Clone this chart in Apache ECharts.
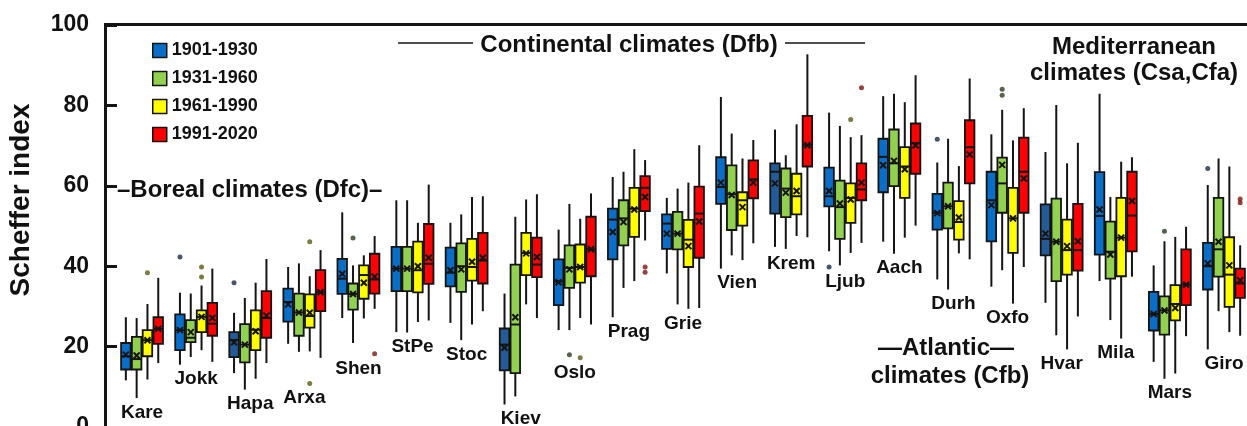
<!DOCTYPE html>
<html>
<head>
<meta charset="utf-8">
<title>Scheffer index by station and period</title>
<script src="https://cdn.jsdelivr.net/npm/echarts@6/dist/echarts.min.js"></script>
<style>
  html, body { margin: 0; padding: 0; background: #fff; }
  #chart { width: 1247px; height: 426px; }
</style>
</head>
<body>
<div id="chart"></div>
<script>
// stations, left to right
const stations = ['Kare', 'Jokk', 'Hapa', 'Arxa', 'Shen', 'StPe', 'Stoc', 'Kiev', 'Oslo', 'Prag', 'Grie',
  'Vien', 'Krem', 'Ljub', 'Aach', 'Durh', 'Oxfo', 'Hvar', 'Mila', 'Mars', 'Giro'];
const periods = ['1901-1930', '1931-1960', '1961-1990', '1991-2020'];

// [min, Q1, median, Q3, max] per station
const box1901 = [
  [11.6, 14.3, 17.6, 20.9, 27.3], [15.5, 19.1, 24.1, 28.0, 33.4], [13.4, 17.4, 21.6, 23.6, 28.4],
  [20.7, 26.2, 31.1, 34.4, 39.8], [27.1, 33.1, 36.9, 41.8, 53.4], [23.6, 33.8, 39.4, 44.8, 56.4],
  [25.9, 35.0, 38.4, 44.6, 50.8], [5.6, 14.1, 20.5, 24.5, 33.2], [24.1, 30.3, 36.2, 41.7, 49.1],
  [27.3, 41.7, 51.6, 54.3, 62.2], [38.2, 44.3, 50.6, 52.9, 57.0], [39.4, 55.5, 59.7, 67.1, 82.1],
  [44.8, 53.1, 63.5, 65.6, 74.0], [43.7, 54.9, 57.4, 64.5, 78.2], [46.1, 58.4, 67.2, 71.7, 82.3],
  [36.7, 49.1, 53.3, 58.0, 65.8], [34.9, 46.2, 56.4, 63.5, 72.8], [30.9, 42.7, 46.8, 55.4, 68.4],
  [36.3, 42.9, 52.5, 63.4, 82.9], [16.2, 24.0, 28.1, 33.6, 40.2], [19.3, 34.2, 40.0, 45.8, 60.2]
];
const box1931 = [
  [7.2, 14.3, 16.9, 22.4, 27.1], [17.4, 21.1, 22.2, 26.6, 33.2], [9.3, 16.1, 20.5, 25.6, 32.1],
  [18.7, 22.7, 28.5, 33.2, 40.7], [20.9, 29.2, 33.1, 35.7, 40.2], [23.5, 33.8, 39.4, 44.8, 56.4],
  [21.6, 33.6, 40.0, 45.7, 52.9], [7.6, 13.4, 25.5, 40.4, 52.3], [24.1, 34.6, 39.6, 45.2, 55.5],
  [34.6, 45.2, 51.9, 56.4, 63.5], [30.5, 44.2, 48.1, 53.5, 59.3], [42.7, 49.0, 57.9, 65.1, 73.0],
  [44.3, 52.2, 59.3, 64.3, 67.6], [40.2, 46.8, 54.7, 61.3, 74.9], [43.1, 59.9, 65.6, 74.0, 82.9],
  [34.2, 49.4, 54.9, 60.8, 71.7], [39.0, 53.3, 60.6, 67.0, 78.9], [22.8, 36.3, 46.1, 56.8, 80.1],
  [26.6, 36.9, 43.6, 51.1, 57.2], [12.0, 23.0, 29.0, 32.5, 46.2], [28.8, 37.4, 44.2, 57.0, 66.8]
];
const box1961 = [
  [11.8, 17.6, 21.6, 24.1, 30.6], [19.1, 23.6, 27.4, 29.0, 35.2], [12.0, 19.1, 24.2, 29.0, 35.9],
  [18.8, 24.7, 27.6, 33.0, 37.5], [27.0, 31.9, 37.8, 40.2, 42.7], [26.1, 33.5, 39.0, 46.1, 50.8],
  [25.5, 36.4, 39.8, 46.8, 57.2], [30.5, 37.8, 43.3, 48.3, 56.6], [27.1, 35.9, 39.8, 45.4, 51.8],
  [36.3, 47.3, 54.3, 59.5, 69.1], [29.4, 39.8, 46.6, 51.5, 60.8], [41.5, 50.1, 56.4, 58.4, 66.8],
  [47.5, 52.9, 57.4, 63.0, 75.3], [43.3, 50.8, 57.0, 60.6, 72.1], [47.1, 57.0, 64.8, 69.6, 80.8],
  [43.2, 46.6, 51.0, 56.2, 64.9], [30.7, 43.3, 51.9, 59.5, 71.3], [19.3, 37.9, 44.0, 51.6, 65.6],
  [22.0, 37.5, 47.1, 57.0, 66.0], [13.3, 26.5, 30.6, 35.3, 47.3], [23.6, 29.9, 37.9, 47.2, 64.8]
];
const box1991 = [
  [15.9, 20.7, 24.4, 27.3, 37.1], [16.2, 22.7, 25.7, 30.9, 39.4], [15.9, 22.2, 27.1, 33.8, 41.8],
  [17.2, 28.8, 33.5, 39.0, 44.0], [29.4, 33.2, 36.7, 43.1, 47.5], [26.5, 35.6, 40.6, 50.5, 60.3],
  [28.8, 35.7, 41.4, 48.3, 57.4], [27.1, 37.3, 40.4, 47.1, 57.9], [25.5, 37.5, 44.2, 52.3, 58.1],
  [46.4, 53.7, 59.5, 62.4, 66.4], [29.6, 42.1, 53.1, 59.8, 70.1], [45.7, 56.9, 61.6, 66.3, 71.4],
  [47.2, 64.8, 70.1, 77.4, 92.7], [45.8, 56.4, 59.1, 65.6, 72.6], [50.1, 63.0, 70.6, 75.5, 87.5],
  [41.7, 60.6, 69.6, 76.3, 86.7], [39.8, 53.3, 63.5, 72.0, 79.3], [27.5, 38.9, 44.0, 55.5, 70.7],
  [37.4, 43.7, 52.6, 63.5, 67.1], [22.6, 30.3, 35.4, 44.2, 49.8], [22.7, 32.1, 35.7, 39.4, 45.2]
];

// means (the x marks)
const mean1901 = [18.0, 24.1, 21.1, 30.5, 38.1, 39.4, 39.0, 19.7, 36.0, 48.5, 48.1, 60.8, 60.6, 58.7, 65.1, 53.2, 55.2, 48.1, 54.1, 28.1, 40.7];
const mean1931 = [17.8, 23.6, 20.5, 28.5, 33.1, 39.4, 39.2, 27.3, 39.2, 51.0, 48.1, 57.7, 58.3, 55.6, 66.2, 54.9, 65.2, 46.1, 42.9, 29.0, 46.1];
const mean1961 = [21.6, 27.4, 23.8, 28.4, 35.9, 40.0, 41.1, 43.2, 39.8, 54.1, 45.0, 54.7, 58.7, 56.6, 64.1, 52.1, 51.9, 45.0, 47.1, 29.6, 40.2];
const mean1991 = [24.4, 27.1, 27.7, 33.5, 37.4, 42.1, 42.1, 42.3, 44.2, 57.2, 51.1, 60.8, 70.1, 60.8, 70.1, 67.8, 61.8, 46.2, 56.2, 35.4, 36.5];

// outliers [station, value]
const out1901 = [['Jokk', 42.3], ['Hapa', 35.9], ['Ljub', 39.8], ['Durh', 71.6], ['Giro', 64.3]];
const out1931 = [['Shen', 47.0], ['Oslo', 18.0], ['Oxfo', 84.0], ['Oxfo', 82.5], ['Mars', 48.7]];
const out1961 = [['Kare', 38.4], ['Jokk', 39.8], ['Jokk', 37.3], ['Arxa', 46.1], ['Arxa', 10.8], ['Oslo', 17.2], ['Ljub', 76.5]];
const out1991 = [['Shen', 18.2], ['Prag', 39.8], ['Prag', 38.5], ['Ljub', 84.4], ['Giro', 56.7], ['Giro', 55.8]];

const boxes = [box1901, box1931, box1961, box1991];
const means = [mean1901, mean1931, mean1961, mean1991];
const outliers = [out1901, out1931, out1961, out1991];

const colors = ['#0a6ec6', '#92d050', '#ffff00', '#ff0000'];
const dotColors = ['#1c2b45', '#2d3a1e', '#5a5a14', '#7a1414'];
const darkBlue = '#245b96';
const darkBlueStations = ['Hapa', 'Kiev', 'Krem', 'Hvar'];
const ink = '#141414';
const boxW = 9.5;
const step = 10.8;
const offsets = [-1.5, -0.5, 0.5, 1.5].map(k => k * step);

function renderBox(k) {
  return function (params, api) {
    const i = api.value(0);
    const cx = api.coord([i, 0])[0] + offsets[k];
    const py = v => api.coord([i, v])[1];
    const yMin = py(api.value(1)), yQ1 = py(api.value(2)), yMed = py(api.value(3));
    const yQ3 = py(api.value(4)), yMax = py(api.value(5)), yMean = py(api.value(6));
    const h = boxW / 2, m = 3;
    const line = { stroke: ink, lineWidth: 2 };
    return {
      type: 'group',
      children: [
        { type: 'line', shape: { x1: cx, y1: yMax, x2: cx, y2: yMin }, style: line },
        { type: 'rect', shape: { x: cx - h, y: yQ3, width: boxW, height: yQ1 - yQ3 },
          style: { fill: api.visual('color'), stroke: ink, lineWidth: 1.8 } },
        { type: 'line', shape: { x1: cx - h, y1: yMed, x2: cx + h, y2: yMed }, style: line },
        { type: 'line', shape: { x1: cx - m, y1: yMean - m, x2: cx + m, y2: yMean + m }, style: line },
        { type: 'line', shape: { x1: cx - m, y1: yMean + m, x2: cx + m, y2: yMean - m }, style: line }
      ]
    };
  };
}

// lowest point of each station group, so its name can sit underneath
function lowest(i) {
  let v = Math.min(...boxes.map(b => b[i][0]));
  outliers.forEach(list => list.forEach(o => { if (o[0] === stations[i]) v = Math.min(v, o[1]); }));
  return v;
}

const series = [];
periods.forEach((p, k) => {
  series.push({
    type: 'custom',
    name: p,
    renderItem: renderBox(k),
    itemStyle: { color: colors[k] },
    encode: { x: 0, y: [1, 2, 3, 4, 5, 6] },
    data: stations.map((s, i) => {
      const item = { value: [i, ...boxes[k][i], means[k][i]] };
      if (k === 0 && darkBlueStations.includes(s)) item.itemStyle = { color: darkBlue };
      return item;
    }),
    z: 2
  });
});
periods.forEach((p, k) => {
  series.push({
    type: 'scatter',
    name: p + ' outliers',
    data: outliers[k],
    symbol: 'circle',
    symbolSize: 5,
    symbolOffset: [offsets[k], 0],
    itemStyle: { color: dotColors[k] },
    silent: true,
    z: 3
  });
});
series.push({
  type: 'custom',
  name: 'stations',
  data: stations.map((s, i) => [i, lowest(i)]),
  encode: { x: 0, y: 1 },
  silent: true,
  renderItem: function (params, api) {
    const pt = api.coord([api.value(0), api.value(1)]);
    return {
      type: 'text',
      x: pt[0],
      y: pt[1] + 5,
      style: { text: stations[params.dataIndex], font: 'bold 19px Arial', fill: '#111', align: 'center', verticalAlign: 'top' }
    };
  },
  z: 3
});

const chart = echarts.init(document.getElementById('chart'));
chart.setOption({
  animation: false,
  backgroundColor: '#fff',
  grid: { left: 115, width: 1136, top: 25, height: 402, containLabel: false, outerBoundsMode: 'none' },
  legend: {
    data: periods,
    orient: 'vertical',
    left: 152,
    top: 40,
    padding: 0,
    icon: 'rect',
    itemWidth: 14,
    itemHeight: 14,
    itemGap: 7,
    selectedMode: false,
    itemStyle: { borderColor: ink, borderWidth: 1.5 },
    textStyle: { fontFamily: 'Arial', fontWeight: 'bold', fontSize: 18, lineHeight: 21, color: '#111' }
  },
  xAxis: {
    type: 'category',
    data: stations,
    axisLine: { show: false },
    axisTick: { show: false },
    axisLabel: { show: false },
    splitLine: { show: false }
  },
  yAxis: {
    type: 'value',
    min: 0,
    max: 100,
    interval: 20,
    offset: 10,
    name: 'Scheffer index',
    nameLocation: 'middle',
    nameGap: 70,
    nameRotate: 90,
    nameTextStyle: { fontFamily: 'Arial', fontWeight: 'bold', fontSize: 28, color: '#111', padding: [0, 0, 0, 52] },
    axisLine: { show: true, lineStyle: { color: ink, width: 3 } },
    axisTick: { show: true, inside: true, length: 12, lineStyle: { color: ink, width: 3 } },
    axisLabel: { margin: 16, fontFamily: 'Arial', fontWeight: 'bold', fontSize: 23, color: '#111' },
    splitLine: { show: false }
  },
  graphic: [
    { type: 'line', shape: { x1: 104, y1: 24.5, x2: 1247, y2: 24.5 }, style: { stroke: ink, lineWidth: 3 } },
    { type: 'text', x: 117, y: 190,
      style: { text: '\u2013Boreal climates (Dfc)\u2013', font: 'bold 24px Arial', fill: '#111', align: 'left', verticalAlign: 'middle' } },
    { type: 'line', shape: { x1: 398, y1: 43, x2: 473, y2: 43 }, style: { stroke: ink, lineWidth: 1.5 } },
    { type: 'line', shape: { x1: 785, y1: 43, x2: 865, y2: 43 }, style: { stroke: ink, lineWidth: 1.5 } },
    { type: 'text', x: 629, y: 45,
      style: { text: 'Continental climates (Dfb)', font: 'bold 24px Arial', fill: '#111', align: 'center', verticalAlign: 'middle' } },
    { type: 'text', x: 1134, y: 47,
      style: { text: 'Mediterranean', font: 'bold 24px Arial', fill: '#111', align: 'center', verticalAlign: 'middle' } },
    { type: 'text', x: 1134, y: 73,
      style: { text: 'climates (Csa,Cfa)', font: 'bold 24px Arial', fill: '#111', align: 'center', verticalAlign: 'middle' } },
    { type: 'text', x: 946, y: 348,
      style: { text: '\u2014Atlantic\u2014', font: 'bold 24px Arial', fill: '#111', align: 'center', verticalAlign: 'middle' } },
    { type: 'text', x: 950, y: 376,
      style: { text: 'climates (Cfb)', font: 'bold 24px Arial', fill: '#111', align: 'center', verticalAlign: 'middle' } }
  ],
  series: series
});
</script>
</body>
</html>
